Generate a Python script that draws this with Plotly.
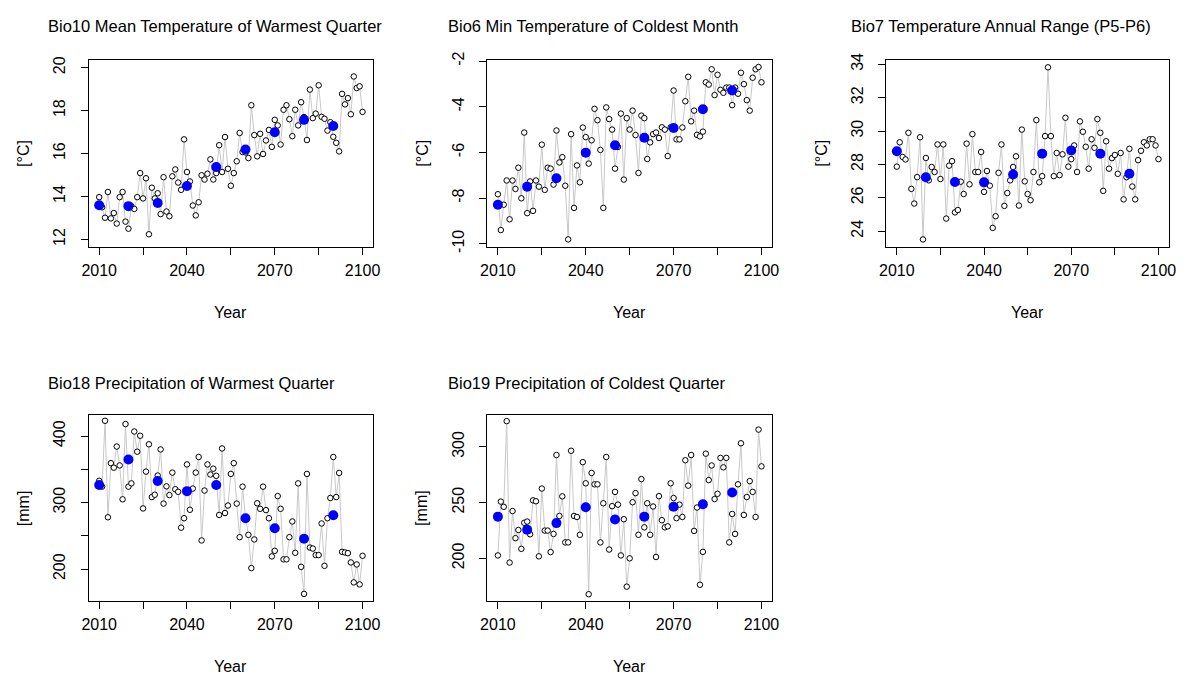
import plotly.graph_objects as go

# ---------------- data ----------------
years = list(range(2010, 2101))
decades = list(range(2010, 2100, 10))

bio10 = [13.97, 13.50, 13.01, 14.21, 12.98, 13.23, 12.74, 13.97, 14.21, 12.83,
         12.50, 13.55, 13.42, 13.97, 15.09, 13.91, 14.85, 12.24, 14.41, 13.91,
         14.15, 13.18, 14.90, 13.30, 13.08, 14.94, 15.26, 14.65, 14.31, 16.66,
         15.14, 14.70, 13.58, 13.12, 13.73, 14.99, 14.79, 15.06, 15.73, 14.79,
         15.09, 16.39, 15.14, 16.77, 15.29, 14.50, 15.09, 15.64, 16.96, 16.07,
         16.05, 15.79, 18.25, 16.86, 15.87, 16.92, 15.98, 16.61, 17.10, 16.31,
         17.57, 17.31, 16.42, 18.04, 18.25, 17.60, 16.81, 18.04, 17.31, 18.39,
         17.70, 16.63, 18.98, 17.65, 17.86, 19.18, 17.71, 17.62, 17.07, 17.46,
         16.78, 16.50, 16.10, 18.78, 18.29, 18.58, 17.83, 19.59, 19.05, 19.13,
         17.94]
bio10_dec = [13.59, 13.55, 13.70, 14.49, 15.37, 16.19, 16.99, 17.57, 17.28]

bio6 = [-7.83, -9.40, -8.29, -7.23, -8.93, -7.23, -7.60, -6.67, -8.01, -5.13,
        -8.66, -7.27, -8.56, -7.23, -7.50, -5.66, -7.64, -6.67, -6.71, -7.41,
        -5.04, -6.44, -6.21, -7.46, -9.81, -5.20, -8.43, -6.57, -7.31, -4.91,
        -5.33, -6.49, -5.47, -4.09, -4.59, -5.89, -8.43, -4.03, -4.54, -5.00,
        -6.71, -5.76, -4.30, -7.19, -4.50, -5.00, -4.17, -5.24, -6.90, -4.39,
        -4.50, -6.29, -5.56, -5.20, -5.13, -5.37, -4.90, -5.00, -6.16, -4.90,
        -3.29, -5.43, -5.43, -4.91, -3.76, -2.69, -4.64, -4.17, -5.23, -5.30,
        -5.09, -2.93, -3.03, -2.36, -3.49, -2.60, -3.26, -3.39, -3.16, -3.16,
        -3.93, -3.16, -3.43, -2.51, -3.01, -3.71, -4.17, -2.73, -2.36, -2.26,
        -2.93]
bio6_dec = [-8.29, -7.50, -7.13, -6.01, -5.69, -5.36, -4.93, -4.11, -3.29]

bio7 = [27.87, 29.33, 28.45, 28.30, 29.90, 26.54, 25.66, 27.24, 29.63, 23.51,
        28.39, 27.05, 27.85, 27.55, 29.20, 27.13, 29.20, 24.76, 27.93, 28.20,
        25.13, 25.27, 26.97, 26.23, 29.25, 26.81, 29.82, 27.55, 27.55, 28.75,
        26.36, 27.61, 26.73, 24.20, 24.90, 27.50, 29.20, 25.52, 26.29, 27.05,
        27.85, 28.49, 25.54, 30.09, 26.99, 26.23, 25.86, 27.55, 30.66, 26.93,
        27.30, 29.70, 33.82, 29.70, 27.30, 28.69, 27.36, 28.61, 30.80, 27.87,
        28.32, 29.14, 27.55, 30.58, 29.96, 29.06, 27.75, 29.51, 29.00, 30.72,
        29.90, 26.42, 29.39, 27.75, 28.38, 28.57, 27.44, 28.69, 25.91, 27.24,
        28.94, 26.68, 25.91, 28.26, 28.82, 29.33, 29.14, 29.51, 29.51, 29.14,
        28.32]
bio7_dec = [28.79, 27.24, 26.95, 26.93, 27.40, 28.65, 28.84, 28.65, 27.44]

bio18 = [332.8, 324.0, 423.0, 277.9, 359.3, 352.5, 384.3, 355.9, 304.9, 418.1,
         324.0, 328.9, 406.9, 376.5, 400.5, 291.2, 346.6, 387.7, 308.3, 311.8,
         340.7, 379.9, 298.5, 324.5, 311.3, 345.1, 320.1, 316.2, 262.3, 276.5,
         357.4, 289.2, 321.1, 345.1, 368.6, 243.1, 318.1, 357.4, 342.2, 351.0,
         340.2, 281.4, 381.4, 284.3, 295.6, 343.1, 359.3, 298.5, 248.0, 324.0,
         278.0, 251.5, 201.5, 244.6, 299.0, 290.7, 324.0, 288.7, 276.5, 219.1,
         227.5, 309.8, 290.7, 214.7, 214.7, 248.0, 271.6, 224.5, 328.9, 203.4,
         162.7, 343.1, 232.4, 230.9, 221.1, 221.1, 268.6, 204.9, 276.5, 306.9,
         368.6, 308.3, 344.6, 226.0, 225.0, 224.0, 210.0, 180.0, 207.0, 177.0,
         220.0]
bio18_dec = [326.5, 364.7, 332.4, 317.2, 326.5, 276.5, 261.3, 245.6, 280.9]

bio19 = [202.6, 250.9, 246.2, 323.1, 196.2, 242.4, 218.1, 225.4, 208.5, 231.9,
         233.0, 221.6, 252.0, 251.2, 201.8, 262.6, 224.9, 224.9, 205.6, 221.9,
         292.7, 238.0, 255.6, 214.3, 214.3, 296.5, 238.0, 237.1, 221.1, 286.3,
         267.3, 167.8, 276.6, 266.4, 266.4, 214.3, 249.4, 290.9, 207.9, 246.8,
         259.6, 248.2, 202.6, 235.1, 174.6, 200.0, 250.3, 258.5, 221.1, 271.1,
         227.8, 249.4, 221.1, 246.5, 201.2, 255.8, 234.2, 227.8, 228.7, 267.3,
         254.1, 236.0, 248.2, 237.1, 288.0, 265.2, 292.7, 224.6, 245.6, 176.3,
         205.8, 293.9, 270.2, 283.3, 253.2, 257.9, 290.1, 281.6, 290.1, 214.3,
         239.8, 221.9, 266.4, 303.2, 238.9, 255.0, 269.3, 259.6, 237.1, 315.5,
         282.5]
bio19_dec = [237.4, 225.7, 231.6, 245.9, 234.8, 237.4, 246.2, 248.5, 259.1]

titles = ["Bio10 Mean Temperature of Warmest Quarter",
          "Bio6 Min Temperature of Coldest Month",
          "Bio7 Temperature Annual Range (P5-P6)",
          "Bio18 Precipitation of Warmest Quarter",
          "Bio19 Precipitation of Coldest Quarter"]
ylabels = ["[°C]", "[°C]", "[°C]", "[mm]", "[mm]"]
series = [bio10, bio6, bio7, bio18, bio19]
series_dec = [bio10_dec, bio6_dec, bio7_dec, bio18_dec, bio19_dec]

x_tickvals = [2010, 2025, 2040, 2055, 2070, 2085, 2100]
x_ticktext = ["2010", "", "2040", "", "2070", "", "2100"]
y_tickvals = [[12, 14, 16, 18, 20], [-10, -8, -6, -4, -2], [24, 26, 28, 30, 32, 34],
              [200, 250, 300, 350, 400], [200, 250, 300]]
y_ticktext = [["12", "14", "16", "18", "20"], ["-10", "-8", "-6", "-4", "-2"],
              ["24", "26", "28", "30", "32", "34"], ["200", "", "300", "", "400"],
              ["200", "250", "300"]]

# ---------------- layout geometry (pixels) ----------------
W, H = 1203, 682
FONT = "Liberation Sans, Arial, sans-serif"
yranges = [[11.65, 20.35], [-10.14, -1.96], [23.06, 34.25], [152.5, 431.9], [162.0, 328.7]]
cols = [(82.6, 370.4), (486.0, 774.0), (889.7, 1175.6), (82.6, 370.4), (486.0, 774.0)]
rows = [(52.3, 243.3)] * 3 + [(415.0, 605.0)] * 2
title_x = [39, 444, 852, 39, 444]
title_y = [17, 17, 17, 382, 382]

fig = go.Figure()
annotations = []
for i in range(5):
    n = i + 1
    xa = "x" if n == 1 else f"x{n}"
    ya = "y" if n == 1 else f"y{n}"
    fig.add_trace(go.Scatter(
        x=years, y=series[i], mode="lines+markers", xaxis=xa, yaxis=ya,
        line=dict(color="#c8c8c8", width=1),
        marker=dict(symbol="circle", size=5.5, color="white",
                    line=dict(color="black", width=1)),
        showlegend=False, hoverinfo="skip"))
    fig.add_trace(go.Scatter(
        x=decades, y=series_dec[i], mode="markers", xaxis=xa, yaxis=ya,
        marker=dict(symbol="circle", size=10, color="#0000ff"),
        showlegend=False, hoverinfo="skip"))

    x0, x1 = cols[i]
    t, b = rows[i]
    axcommon = dict(showline=True, mirror=True, linecolor="black", linewidth=1,
                    ticks="outside", ticklen=7, tickwidth=1, tickcolor="black",
                    showgrid=False, zeroline=False,
                    tickfont=dict(family=FONT, size=16, color="black"))
    fig.update_layout(**{
        ("xaxis" if n == 1 else f"xaxis{n}"): dict(
            domain=[x0 / W, x1 / W], anchor=ya, range=[2006.4, 2103.6],
            tickmode="array", tickvals=x_tickvals, ticktext=x_ticktext,
            ticklabelstandoff=2, **axcommon),
        ("yaxis" if n == 1 else f"yaxis{n}"): dict(
            domain=[1 - b / H, 1 - t / H], anchor=xa, range=yranges[i],
            tickmode="array", tickvals=y_tickvals[i], ticktext=y_ticktext[i],
            tickangle=-90, ticklabelstandoff=9, **axcommon),
    })
    annotations.append(dict(text=titles[i], x=title_x[i] / W, y=1 - title_y[i] / H,
                            xref="paper", yref="paper", xanchor="left", yanchor="middle",
                            showarrow=False, font=dict(family=FONT, size=16.5, color="black")))
    annotations.append(dict(text="Year", x=(x0 + x1) / 2 / W, y=1 - (b + 67) / H,
                            xref="paper", yref="paper", xanchor="center", yanchor="middle",
                            showarrow=False, font=dict(family=FONT, size=16, color="black")))
    annotations.append(dict(text=ylabels[i], x=(x0 - 66) / W, y=1 - (t + b) / 2 / H,
                            xref="paper", yref="paper", xanchor="center", yanchor="middle",
                            textangle=-90, showarrow=False,
                            font=dict(family=FONT, size=16, color="black")))

fig.update_layout(width=W, height=H, margin=dict(l=0, r=0, t=0, b=0),
                  paper_bgcolor="white", plot_bgcolor="white",
                  annotations=annotations, showlegend=False)

fig.write_html("out.html")
